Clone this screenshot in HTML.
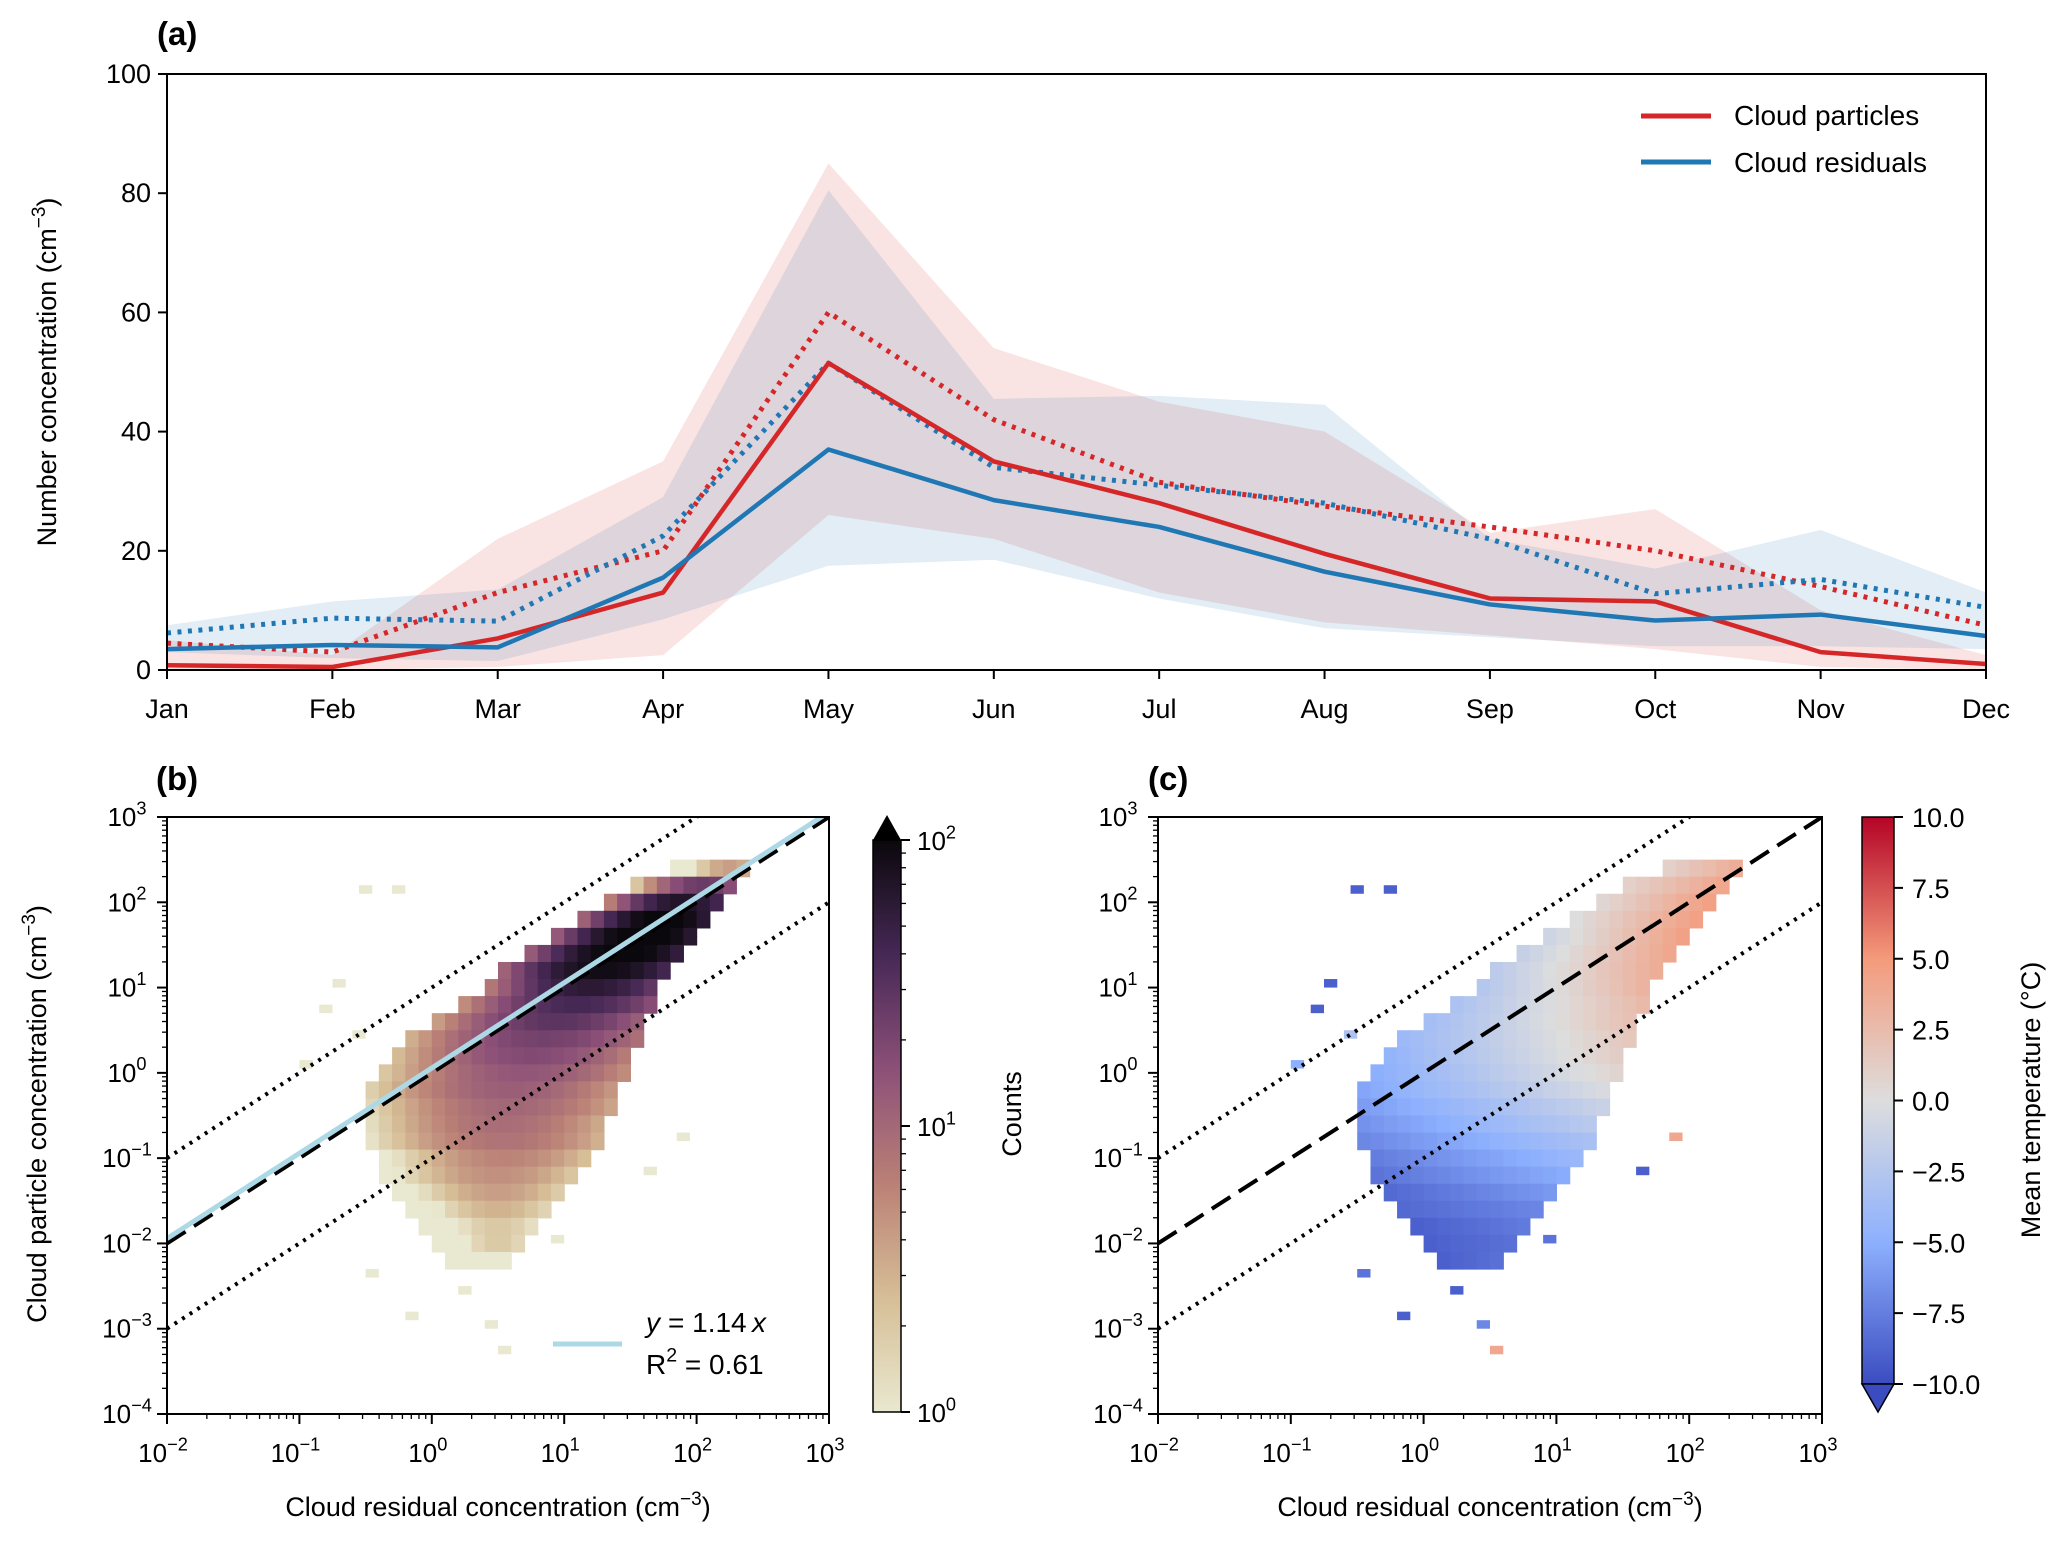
<!DOCTYPE html>
<html><head><meta charset="utf-8">
<style>
html,body{margin:0;padding:0;background:#fff;}
svg{display:block;font-family:"Liberation Sans",sans-serif;}
</style></head>
<body>
<svg id="fig" width="2067" height="1543" viewBox="0 0 2067 1543" xmlns="http://www.w3.org/2000/svg"></svg>
<script>
// ---- Panel (a) data ----
const months = ["Jan","Feb","Mar","Apr","May","Jun","Jul","Aug","Sep","Oct","Nov","Dec"];
const yTicksA = [0,20,40,60,80,100];
const redSolid = [0.8,0.5,5.3,13,51.5,35,28,19.5,12,11.5,3,1];
const blueSolid = [3.5,4.2,3.8,15.5,37,28.5,24,16.5,11,8.3,9.3,5.7];
const redDotted = [4.5,3,13,20,60,42,31.5,27.5,24,20,14,7.5];
const blueDotted = [6.2,8.7,8.2,22.5,51.5,34,31,28,22,12.8,15.2,10.5];
const redUpper = [5,2.5,22,35,85,54,45,40,23,27,10,2.5];
const redLower = [0,0,0.5,2.5,26,22,13,8,5.8,3.5,0.5,0];
const blueUpper = [7.5,11.5,13.5,29,80.5,45.5,46,44.5,22,17,23.5,13];
const blueLower = [3,2,1.5,8.5,17.5,18.5,12,7,5.5,4,4,3.5];
// ---- Panel (b) histogram rows: log10(y) centre, log10(x) range, peak count ----
const rowLogY = [2.4,2.2,2.0,1.8,1.6,1.4,1.2,1.0,0.8,0.6,0.4,0.2,0.0,-0.2,-0.4,-0.6,-0.8,-1.0,-1.2,-1.4,-1.6,-1.8,-2.0,-2.2];
const rowXLo  = [1.8,1.5,1.3,1.1,0.9,0.7,0.5,0.4,0.2,0.0,-0.2,-0.3,-0.4,-0.5,-0.5,-0.5,-0.5,-0.4,-0.4,-0.3,-0.2,-0.1,0.0,0.1];
const rowXHi  = [2.4,2.3,2.2,2.1,2.0,1.9,1.8,1.7,1.7,1.6,1.6,1.5,1.5,1.4,1.4,1.3,1.3,1.2,1.1,1.0,0.9,0.8,0.7,0.6];
const rowPeak = [4,25,70,110,120,110,90,60,40,30,22,18,14,12,10,9,8,6,5,4,3,2,2,1];
// ---- Panel (c) mean temperature per row (left edge, right edge) ----
const rowTempL = [1,1,0.5,0,-1,-1.5,-2,-2.5,-3,-3.5,-4,-4.5,-5,-5.5,-6,-6.5,-7,-7.5,-8,-8.5,-8.5,-9,-9,-9];
const rowTempR = [4,4.5,5,5,5,4.5,4,3.5,3,2.5,2,1.5,1,0,-1,-2,-3,-4,-5,-6,-7,-7.5,-8,-8];
// isolated sparse cells (log10 x, log10 y, count / temperature)
const outX = [-0.55,-0.3,-0.75,-0.85,-1.0,-0.5,0.5,1.6,1.85,0.2,-0.2,0.9,-0.6,0.4];
const outY = [2.1,2.1,1.0,0.7,0.05,-2.4,-3.3,-1.2,-0.8,-2.6,-2.9,-2.0,0.4,-3.0];
const outCount = [1,1,1,1,1,1,1,1,1,1,1,1,1,1];
const outTemp = [-9,-9,-9,-9,-5,-8,4,-9,4,-9,-9,-8,-3,-7];
const logTicks = [-2,-1,0,1,2,3];
const logTicksY = [-4,-3,-2,-1,0,1,2,3];
const tempTicks = [-10,-7.5,-5,-2.5,0,2.5,5,7.5,10];

const NS="http://www.w3.org/2000/svg";
const svg=document.getElementById('fig');
function el(tag,attrs,parent){const e=document.createElementNS(NS,tag);for(const k in attrs)e.setAttribute(k,attrs[k]);(parent||svg).appendChild(e);return e;}
function txt(x,y,s,attrs,parent){const t=el('text',Object.assign({x:x,y:y},attrs||{}),parent);t.textContent=s;return t;}
function supLabel(x,y,base,exp,size,anchor,parent){
  const t=el('text',{x:x,y:y,'font-size':size,'text-anchor':anchor||'middle'},parent);
  const a=document.createElementNS(NS,'tspan');a.textContent=base;t.appendChild(a);
  const b=document.createElementNS(NS,'tspan');b.setAttribute('dy',-size*0.45);b.setAttribute('font-size',size*0.7);b.textContent=exp;t.appendChild(b);
  return t;}

// ===== Panel (a) =====
const A={l:167,r:1986,t:74,b:670};
const xa=i=>A.l+(A.r-A.l)*i/11;
const ya=v=>A.b-(A.b-A.t)*v/100;
const gA=el('g',{});


const clipA=el('clipPath',{id:'clipA'},gA);el('rect',{x:A.l,y:A.t,width:A.r-A.l,height:A.b-A.t},clipA);
function band(up,lo,color,name){
  let d='M'+up.map((v,i)=>xa(i)+','+ya(v)).join(' L');
  d+=' L'+lo.map((v,i)=>xa(i)+','+ya(v)).reverse().join(' L')+'Z';
  const p=el('path',{d:d,fill:color,'fill-opacity':0.13,'clip-path':'url(#clipA)'},gA);
  
  }
band(redUpper,redLower,'#d62728','band-cloud-particles');
band(blueUpper,blueLower,'#1f77b4','band-cloud-residuals');
function line(vals,color,dash,name){
  const p=el('polyline',{points:vals.map((v,i)=>xa(i)+','+ya(v)).join(' '),fill:'none',stroke:color,'stroke-width':dash?5:4.5,'stroke-dasharray':dash?'4,6.5':'none','stroke-linejoin':'round','clip-path':'url(#clipA)'},gA);
  
  }
line(redDotted,'#d62728',true,'line-cloud-particles-dotted');
line(blueDotted,'#1f77b4',true,'line-cloud-residuals-dotted');
line(redSolid,'#d62728',false,'line-cloud-particles');
line(blueSolid,'#1f77b4',false,'line-cloud-residuals');
el('rect',{x:A.l,y:A.t,width:A.r-A.l,height:A.b-A.t,fill:'none',stroke:'#000','stroke-width':2},gA);
months.forEach((m,i)=>{el('line',{x1:xa(i),x2:xa(i),y1:A.b,y2:A.b+9,stroke:'#000','stroke-width':2},gA);
  const t=txt(xa(i),A.b+48,m,{'font-size':27,'text-anchor':'middle'},gA);
  
  });
yTicksA.forEach(v=>{el('line',{x1:A.l-9,x2:A.l,y1:ya(v),y2:ya(v),stroke:'#000','stroke-width':2},gA);
  txt(A.l-16,ya(v)+9,String(v),{'font-size':27,'text-anchor':'end'},gA);});
const yl=el('text',{x:0,y:0,'font-size':27,'text-anchor':'middle',transform:'translate(56,372) rotate(-90)'},gA);


yl.innerHTML='Number concentration (cm<tspan dy="-11" font-size="19">−3</tspan><tspan dy="11">)</tspan>';
txt(157,45,'(a)',{'font-size':33,'font-weight':'bold'});
const lg=el('g',{},gA);


el('line',{x1:1641,x2:1711,y1:116,y2:116,stroke:'#d62728','stroke-width':5},lg);
txt(1734,125,'Cloud particles',{'font-size':28},lg);
el('line',{x1:1641,x2:1711,y1:162,y2:162,stroke:'#1f77b4','stroke-width':5},lg);
txt(1734,172,'Cloud residuals',{'font-size':28},lg);

// ===== Colormaps =====
function lerpStops(stops,f){f=Math.max(0,Math.min(1,f));for(let i=1;i<stops.length;i++){if(f<=stops[i][0]){const a=stops[i-1],b=stops[i],u=(f-a[0])/(b[0]-a[0]);
  const c=[0,1,2].map(k=>Math.round(a[1][k]+(b[1][k]-a[1][k])*u));return 'rgb('+c.join(',')+')';}}return 'rgb('+stops[stops.length-1][1].join(',')+')';}
const countStops=[[0,[233,232,208]],[0.2,[214,190,150]],[0.4,[186,128,118]],[0.6,[140,80,120]],[0.8,[70,40,85]],[1,[10,8,12]]];
const tempStops=[[0,[59,76,192]],[0.25,[141,176,254]],[0.5,[221,221,221]],[0.75,[244,154,123]],[1,[180,4,38]]];

function logPanel(P,name){
  const g=el('g',{});
  
  
  P.x=v=>P.l+(P.r-P.l)*(v+2)/5;
  P.y=v=>P.b-(P.b-P.t)*(v+4)/7;
  P.g=g;return P;}
function frame(P,id){
  const g=P.g;
  el('rect',{x:P.l,y:P.t,width:P.r-P.l,height:P.b-P.t,fill:'none',stroke:'#000','stroke-width':2},g);
  logTicks.forEach(v=>{el('line',{x1:P.x(v),x2:P.x(v),y1:P.b,y2:P.b+10,stroke:'#000','stroke-width':2},g);
    supLabel(P.x(v)-4,P.b+48,'10',String(v).replace('-','−'),26,'middle',g);
    if(v<3)for(let k=2;k<10;k++){const xx=P.x(v+Math.log10(k));el('line',{x1:xx,x2:xx,y1:P.b,y2:P.b+5,stroke:'#000','stroke-width':1.3},g);}});
  logTicksY.forEach(v=>{el('line',{x1:P.l-10,x2:P.l,y1:P.y(v),y2:P.y(v),stroke:'#000','stroke-width':2},g);
    supLabel(P.l-40,P.y(v)+9,'10',String(v).replace('-','−'),26,'middle',g);
    if(v<3)for(let k=2;k<10;k++){const yy=P.y(v+Math.log10(k));el('line',{x1:P.l-5,x2:P.l,y1:yy,y2:yy,stroke:'#000','stroke-width':1.3},g);}});
  const xl=el('text',{x:(P.l+P.r)/2,y:1516,'font-size':27,'text-anchor':'middle'},g);
  
  
  xl.innerHTML='Cloud residual concentration (cm<tspan dy="-11" font-size="19">−3</tspan><tspan dy="11">)</tspan>';
}
function refLines(P,clip){
  const g=P.g;
  [[1,'3,6',4],[-1,'3,6',4],[0,'22,10',4]].forEach(([o,dash,w])=>{
    el('line',{x1:P.x(-2),y1:P.y(-2+o),x2:P.x(3),y2:P.y(3+o),stroke:'#000','stroke-width':w,'stroke-dasharray':dash,'clip-path':clip},g);});
}
function cells(P,colorFn,outColorFn){
  const g=el('g',{},P.g);
  const dx=0.1,dy=0.1;
  rowLogY.forEach((ly,r)=>{
    for(let sub=0;sub<2;sub++){
      const y0=ly-0.1+sub*dy;
      const lo=rowXLo[r],hi=rowXHi[r],c=(lo+hi)/2+0.15,w=(hi-lo)/2;
      for(let x0=lo;x0<hi-1e-6;x0+=dx){
        const f=Math.exp(-Math.pow((x0+dx/2-c)/(w*0.8),2));
        const cnt=Math.max(1,rowPeak[r]*f);
        const col=colorFn(r,cnt,(x0-lo)/Math.max(hi-lo,0.1));
        const rc=el('rect',{x:P.x(x0),y:P.y(y0+dy),width:P.x(x0+dx)-P.x(x0)+0.6,height:P.y(y0)-P.y(y0+dy)+0.6,fill:col},g);
        
        
      }}});
  outX.forEach((ox,i)=>{
    const rc=el('rect',{x:P.x(ox),y:P.y(outY[i]+dy),width:P.x(ox+dx)-P.x(ox),height:P.y(outY[i])-P.y(outY[i]+dy),fill:outColorFn(i)},g);
    
    });
}
// Panel b
const B=logPanel({l:167,r:829,t:817,b:1414},'panel-b');
const clipB=el('clipPath',{id:'clipB'},B.g);el('rect',{x:B.l,y:B.t,width:B.r-B.l,height:B.b-B.t},clipB);
cells(B,(r,cnt)=>lerpStops(countStops,Math.log10(cnt)/2),i=>lerpStops(countStops,Math.log10(outCount[i])/2));
refLines(B,'url(#clipB)');
const fit=el('line',{x1:B.x(-2),y1:B.y(-2+Math.log10(1.14)),x2:B.x(3),y2:B.y(3+Math.log10(1.14)),stroke:'#add8e6','stroke-width':5,'clip-path':'url(#clipB)'},B.g);


frame(B,'b');
const yb=el('text',{x:0,y:0,'font-size':27,'text-anchor':'middle',transform:'translate(46,1114) rotate(-90)'},B.g);


yb.innerHTML='Cloud particle concentration (cm<tspan dy="-11" font-size="19">−3</tspan><tspan dy="11">)</tspan>';
el('line',{x1:553,x2:622,y1:1344,y2:1344,stroke:'#add8e6','stroke-width':5},B.g);
txt(646,1332,'y',{'font-size':28,'font-style':'italic'},B.g);
txt(668,1332,'= 1.14',{'font-size':28},B.g);
txt(752,1332,'x',{'font-size':28,'font-style':'italic'},B.g);
supLabel(646,1374,'R','2',28,'start',B.g).lastChild.insertAdjacentHTML('afterend','<tspan dy="12.6"> = 0.61</tspan>');
txt(156,790,'(b)',{'font-size':33,'font-weight':'bold'});
const cbB=el('g',{});


const gradB=el('linearGradient',{id:'gradB',x1:0,y1:1,x2:0,y2:0},cbB);
countStops.forEach(s=>el('stop',{offset:s[0],'stop-color':'rgb('+s[1].join(',')+')'},gradB));
el('rect',{x:873,y:840,width:28,height:572,fill:'url(#gradB)',stroke:'#000','stroke-width':1.5},cbB);
el('path',{d:'M873,840 L887,815 L901,840Z',fill:'#000'},cbB);
[0,1,2].forEach(e=>{const yy=1412-286*e;el('line',{x1:901,x2:910,y1:yy,y2:yy,stroke:'#000','stroke-width':2},cbB);
  supLabel(917,yy+10,'10',String(e),26,'start',cbB);
  if(e<2)for(let k=2;k<10;k++){const y2=yy-286*Math.log10(k);el('line',{x1:901,x2:906,y1:y2,y2:y2,stroke:'#000','stroke-width':1.3},cbB);}});
txt(0,0,'Counts',{'font-size':27,'text-anchor':'middle',transform:'translate(1021,1114) rotate(-90)'},cbB);

// Panel c
const C=logPanel({l:1158,r:1822,t:817,b:1414},'panel-c');
const clipC=el('clipPath',{id:'clipC'},C.g);el('rect',{x:C.l,y:C.t,width:C.r-C.l,height:C.b-C.t},clipC);
cells(C,(r,cnt,fx)=>{const t=rowTempL[r]+(rowTempR[r]-rowTempL[r])*fx;return lerpStops(tempStops,(t+10)/20);},i=>lerpStops(tempStops,(outTemp[i]+10)/20));
refLines(C,'url(#clipC)');
frame(C,'c');
txt(1148,790,'(c)',{'font-size':33,'font-weight':'bold'});
const cbC=el('g',{});


const gradC=el('linearGradient',{id:'gradC',x1:0,y1:1,x2:0,y2:0},cbC);
tempStops.forEach(s=>el('stop',{offset:s[0],'stop-color':'rgb('+s[1].join(',')+')'},gradC));
el('rect',{x:1862,y:817,width:32,height:567,fill:'url(#gradC)',stroke:'#000','stroke-width':1.5},cbC);
el('path',{d:'M1862,1384 L1878,1412 L1894,1384Z',fill:'#3b4cc0',stroke:'#000','stroke-width':1.5},cbC);
tempTicks.forEach(v=>{const yy=1384-567*(v+10)/20;el('line',{x1:1894,x2:1903,y1:yy,y2:yy,stroke:'#000','stroke-width':2},cbC);
  txt(1912,yy+10,(v<0?'−':'')+Math.abs(v).toFixed(1),{'font-size':27},cbC);});
txt(0,0,'Mean temperature (°C)',{'font-size':27,'text-anchor':'middle',transform:'translate(2040,1100) rotate(-90)'},cbC);
</script>
</body></html>
